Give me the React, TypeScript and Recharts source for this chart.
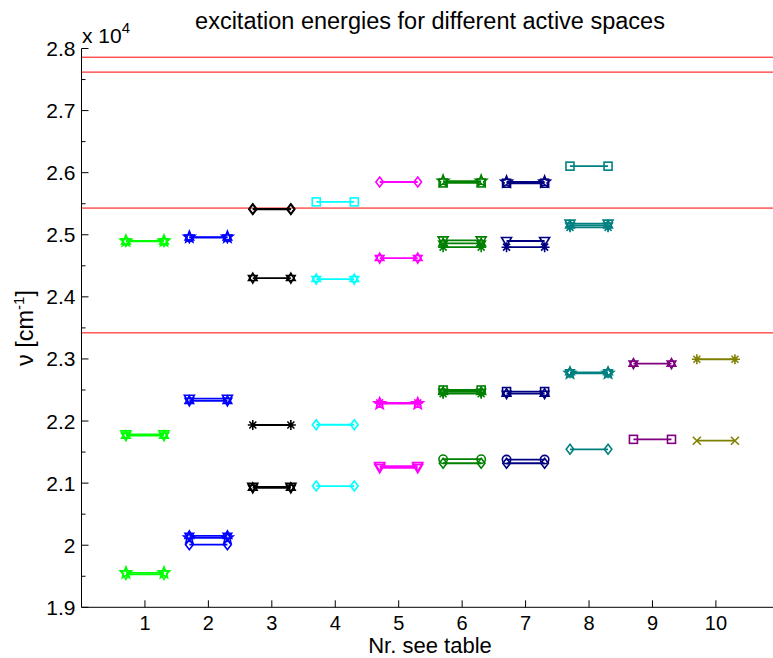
import React from 'react';
import { ComposedChart, Scatter, XAxis, YAxis, ReferenceLine } from 'recharts';

// table numbers on the x axis and one colour per table entry
const categories = [1, 2, 3, 4, 5, 6, 7, 8, 9, 10];
const colors = ['#00ff00', '#0000ff', '#000000', '#00ffff', '#ff00ff', '#008000', '#000080', '#008080', '#800080', '#808000'];

// excitation energies in cm^-1, one list per active space
const energies: number[][] = [
  [24900, 24893, 21785, 21765, 19555, 19530],
  [24962, 24955, 22360, 22325, 20150, 20118, 20008],
  [25418, 25408, 24303, 21936, 20940, 20925],
  [25530, 24287, 21940, 20953],
  [25850, 24625, 22292, 22280, 21275, 21245],
  [25865, 25835, 24910, 24860, 24800, 22500, 22470, 22440, 21385, 21320],
  [25850, 25830, 24900, 24800, 22475, 22440, 21380, 21320],
  [26105, 25180, 25150, 25120, 22785, 22770, 21545],
  [22925, 21705],
  [22995, 21683],
];
const markers: string[][] = [
  ['pent', 'hex', 'tri', 'hex', 'pent', 'tri'],
  ['pent', 'hex', 'tri', 'hex', 'hex', 'pent', 'diamond'],
  ['diamond', 'diamond', 'hex', 'asterisk', 'tri', 'hex'],
  ['square', 'hex', 'diamond', 'diamond'],
  ['diamond', 'hex', 'asterisk', 'pent', 'tri', 'tri'],
  ['pent', 'square', 'tri', 'hex', 'asterisk', 'square', 'hex', 'asterisk', 'circle', 'diamond'],
  ['pent', 'square', 'tri', 'asterisk', 'square', 'hex', 'circle', 'diamond'],
  ['square', 'tri', 'hex', 'asterisk', 'hex', 'pent', 'diamond'],
  ['hex', 'square'],
  ['asterisk', 'x'],
];

// experimental reference energies (red lines)
const referenceLines = [27860, 27620, 25430, 23420];

const xTicks = [1, 2, 3, 4, 5, 6, 7, 8, 9, 10];
const yTicks = [19000, 19500, 20000, 20500, 21000, 21500, 22000, 22500, 23000, 23500, 24000, 24500, 25000, 25500, 26000, 26500, 27000, 27500, 28000];

const HALF_WIDTH = 0.3;
const W = 773;
const H = 658;
const LEFT = 81.5;
const TOP = 48.5;
const BOTTOM = 607.3;
const FONT = '"Liberation Sans", Arial, Helvetica, sans-serif';

const starPath = (cx: number, cy: number, n: number, ro: number, ri: number) => {
  const pts: string[] = [];
  for (let k = 0; k < n * 2; k++) {
    const r = k % 2 === 0 ? ro : ri;
    const a = -Math.PI / 2 + (k * Math.PI) / n;
    pts.push(`${(cx + r * Math.cos(a)).toFixed(2)},${(cy + r * Math.sin(a)).toFixed(2)}`);
  }
  return 'M' + pts.join('L') + 'Z';
};

const makeMarker = (kind: string, color: string) => (props: any) => {
  const { cx, cy } = props;
  if (cx == null || cy == null) return null;
  const s = { stroke: color, strokeWidth: 1.6, fill: 'none' };
  const r = 5;
  switch (kind) {
    case 'pent':
      return <path d={starPath(cx, cy, 5, 6, 2.6)} {...s} />;
    case 'hex':
      return (
        <g {...s}>
          <path d={`M${cx},${cy - r}L${cx + 4.3},${cy + 2.5}L${cx - 4.3},${cy + 2.5}Z`} />
          <path d={`M${cx},${cy + r}L${cx + 4.3},${cy - 2.5}L${cx - 4.3},${cy - 2.5}Z`} />
        </g>
      );
    case 'tri':
      return <path d={`M${cx},${cy + r}L${cx - 5},${cy - 3.5}L${cx + 5},${cy - 3.5}Z`} {...s} />;
    case 'diamond':
      return <path d={`M${cx},${cy - r}L${cx + 3.8},${cy}L${cx},${cy + r}L${cx - 3.8},${cy}Z`} {...s} />;
    case 'square':
      return <rect x={cx - 4} y={cy - 4} width={8} height={8} {...s} />;
    case 'circle':
      return <circle cx={cx} cy={cy} r={4.2} {...s} />;
    case 'x':
      return <path d={`M${cx - 4},${cy - 4}L${cx + 4},${cy + 4}M${cx - 4},${cy + 4}L${cx + 4},${cy - 4}`} {...s} />;
    default:
      return (
        <path
          d={`M${cx - r},${cy}L${cx + r},${cy}M${cx},${cy - r}L${cx},${cy + r}M${cx - 3.5},${cy - 3.5}L${cx + 3.5},${cy + 3.5}M${cx - 3.5},${cy + 3.5}L${cx + 3.5},${cy - 3.5}`}
          {...s}
        />
      );
  }
};

const YTick = (props: any) => {
  const { y, payload } = props;
  const major = payload.value % 1000 === 0;
  return (
    <g>
      <line x1={LEFT} x2={LEFT + (major ? 7 : 4)} y1={y} y2={y} stroke="#000" strokeWidth={1} />
      {major && (
        <text x={LEFT - 6} y={y + 7.5} textAnchor="end" fontSize={21} fontFamily={FONT} fill="#000">
          {String(Math.round(payload.value / 1000) / 10)}
        </text>
      )}
    </g>
  );
};

const XTick = (props: any) => {
  const { x, payload } = props;
  return (
    <g>
      <line x1={x} x2={x} y1={BOTTOM} y2={BOTTOM - 7} stroke="#000" strokeWidth={1} />
      <text x={x} y={BOTTOM + 23} textAnchor="middle" fontSize={20} fontFamily={FONT} fill="#000">
        {payload.value}
      </text>
    </g>
  );
};

const App: React.FC = () => {
  const series = categories.flatMap((c, i) =>
    energies[i].map((e, j) => ({
      key: `${c}-${j}`,
      color: colors[i],
      marker: markers[i][j],
      data: [
        { x: c - HALF_WIDTH, y: e },
        { x: c + HALF_WIDTH, y: e },
      ],
    }))
  );

  return (
    <div style={{ position: 'relative', width: W, height: H, background: '#fff', overflow: 'hidden' }}>
      <style>{'body{margin:0}'}</style>
      <ComposedChart width={W} height={H} margin={{ top: TOP, right: 0, bottom: 0, left: 0 }}>
        <XAxis
          type="number"
          dataKey="x"
          domain={[0, 10.9]}
          ticks={xTicks}
          allowDataOverflow
          height={H - BOTTOM}
          tickLine={false}
          axisLine={{ stroke: '#000', strokeWidth: 1 }}
          tick={<XTick />}
          interval={0}
        />
        <YAxis
          type="number"
          dataKey="y"
          domain={[19000, 28000]}
          ticks={yTicks}
          allowDataOverflow
          width={LEFT}
          tickLine={false}
          axisLine={{ stroke: '#000', strokeWidth: 1 }}
          tick={<YTick />}
          interval={0}
        />
        {referenceLines.map((v) => (
          <ReferenceLine key={v} y={v} stroke="#ff0000" strokeWidth={1} ifOverflow="hidden" />
        ))}
        {series.map((s) => (
          <Scatter
            key={s.key}
            data={s.data}
            line={{ stroke: s.color, strokeWidth: 1.8 }}
            shape={makeMarker(s.marker, s.color)}
            isAnimationActive={false}
          />
        ))}
      </ComposedChart>
      <svg width={W} height={H} style={{ position: 'absolute', left: 0, top: 0, pointerEvents: 'none' }} fontFamily={FONT}>
        <text x={430} y={29} textAnchor="middle" fontSize={23.5} fill="#000">
          excitation energies for different active spaces
        </text>
        <text x={82} y={43} fontSize={21} fill="#000">
          x 10
          <tspan dy={-10} fontSize={15}>4</tspan>
        </text>
        <text x={430} y={653} textAnchor="middle" fontSize={22} fill="#000">
          Nr. see table
        </text>
        <text transform="translate(33,328) rotate(-90)" textAnchor="middle" fontSize={23.5} fill="#000">
          ν [cm
          <tspan dy={-9} fontSize={15}>-1</tspan>
          <tspan dy={9}>]</tspan>
        </text>
      </svg>
    </div>
  );
};

export default App;
